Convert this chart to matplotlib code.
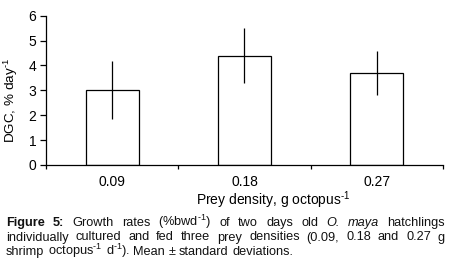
import numpy as np
import matplotlib
matplotlib.use('Agg')
import matplotlib.pyplot as plt

plt.rcParams['font.family'] = ['Liberation Sans', 'DejaVu Sans']
plt.rcParams['mathtext.fontset'] = 'custom'
plt.rcParams['mathtext.rm'] = 'Liberation Sans'
plt.rcParams['mathtext.it'] = 'Liberation Sans:italic'
plt.rcParams['mathtext.bf'] = 'Liberation Sans:bold'

# data
categories = ['0.09', '0.18', '0.27']
dgc_mean = [3.0, 4.4, 3.69]
dgc_sd = [1.16, 1.12, 0.88]
y_ticks = [0, 1, 2, 3, 4, 5, 6]

W, H = 456, 264
fig = plt.figure(figsize=(W / 100, H / 100), dpi=100)
ax = fig.add_axes([46 / W, 1 - 165 / H, (443 - 46) / W, (165 - 15.7) / H])

x = np.arange(len(categories))
ax.bar(x, dgc_mean, width=0.4, color='white', edgecolor='black', linewidth=0.9)
ax.errorbar(x, dgc_mean, yerr=dgc_sd, fmt='none', ecolor='black', elinewidth=0.9, capsize=0)

ax.set_xlim(-0.5, len(categories) - 0.5)
ax.set_ylim(0, 6)
ax.set_yticks(y_ticks)
ax.set_xticks(np.arange(len(categories) + 1) - 0.5)
ax.set_xticklabels([])
ax.set_xticks(x, minor=True)
ax.set_xticklabels(categories, minor=True)
ax.tick_params(axis='x', which='major', length=3, width=0.9)
ax.tick_params(axis='x', which='minor', length=0, pad=7, labelsize=10)
ax.tick_params(axis='y', length=4, width=0.9, labelsize=10, pad=3)
for s in ['top', 'right']:
    ax.spines[s].set_visible(False)
for s in ['left', 'bottom']:
    ax.spines[s].set_linewidth(0.9)

SUP = r'$^{\text{-1}}$'
fig.text(273 / W, 1 - 200 / H, 'Prey density, g octopus' + SUP, ha='center', va='center', fontsize=10)
fig.text(11 / W, 1 - 100 / H, 'DGC, % day' + SUP, ha='center', va='center', rotation=90, fontsize=9.7)

# caption, justified
cap_lines = [
    [('Figure', 'bold'), ('5:', 'bold'), ('Growth', ''), ('rates', ''),
     ('(%bwd' + SUP + ')', ''), ('of', ''), ('two', ''), ('days', ''), ('old', ''),
     ('O.', 'italic'), ('maya', 'italic'), ('hatchlings', '')],
    [(w, '') for w in 'individually cultured and fed three prey densities (0.09, 0.18 and 0.27 g'.split()],
    [(w, '') for w in ['shrimp', 'octopus' + SUP, 'd' + SUP + ').', 'Mean', '±', 'standard', 'deviations.']],
]
justify = [True, True, False]
line_y = [226, 240.5, 255]
x0, x1 = 6, 445
cap_size = 9.2

renderer = fig.canvas.get_renderer()
sp1 = fig.text(0, 0, 'a b', fontsize=cap_size)
sp2 = fig.text(0, 0, 'ab', fontsize=cap_size)
space = sp1.get_window_extent(renderer).width - sp2.get_window_extent(renderer).width
sp1.remove()
sp2.remove()

for words, just, ly in zip(cap_lines, justify, line_y):
    texts = []
    for txt, style in words:
        t = fig.text(0, 1 - ly / H, txt, fontsize=cap_size, va='baseline', ha='left',
                     fontweight='bold' if style == 'bold' else 'normal',
                     fontstyle='italic' if style == 'italic' else 'normal',
                     color='#111111')
        texts.append(t)
    widths = [t.get_window_extent(renderer).width for t in texts]
    if just:
        gap = (x1 - x0 - sum(widths)) / (len(words) - 1)
    else:
        gap = space
    cx = x0
    for t, w in zip(texts, widths):
        t.set_x(cx / W)
        cx += w + gap

fig.savefig('out.png', dpi=100)
